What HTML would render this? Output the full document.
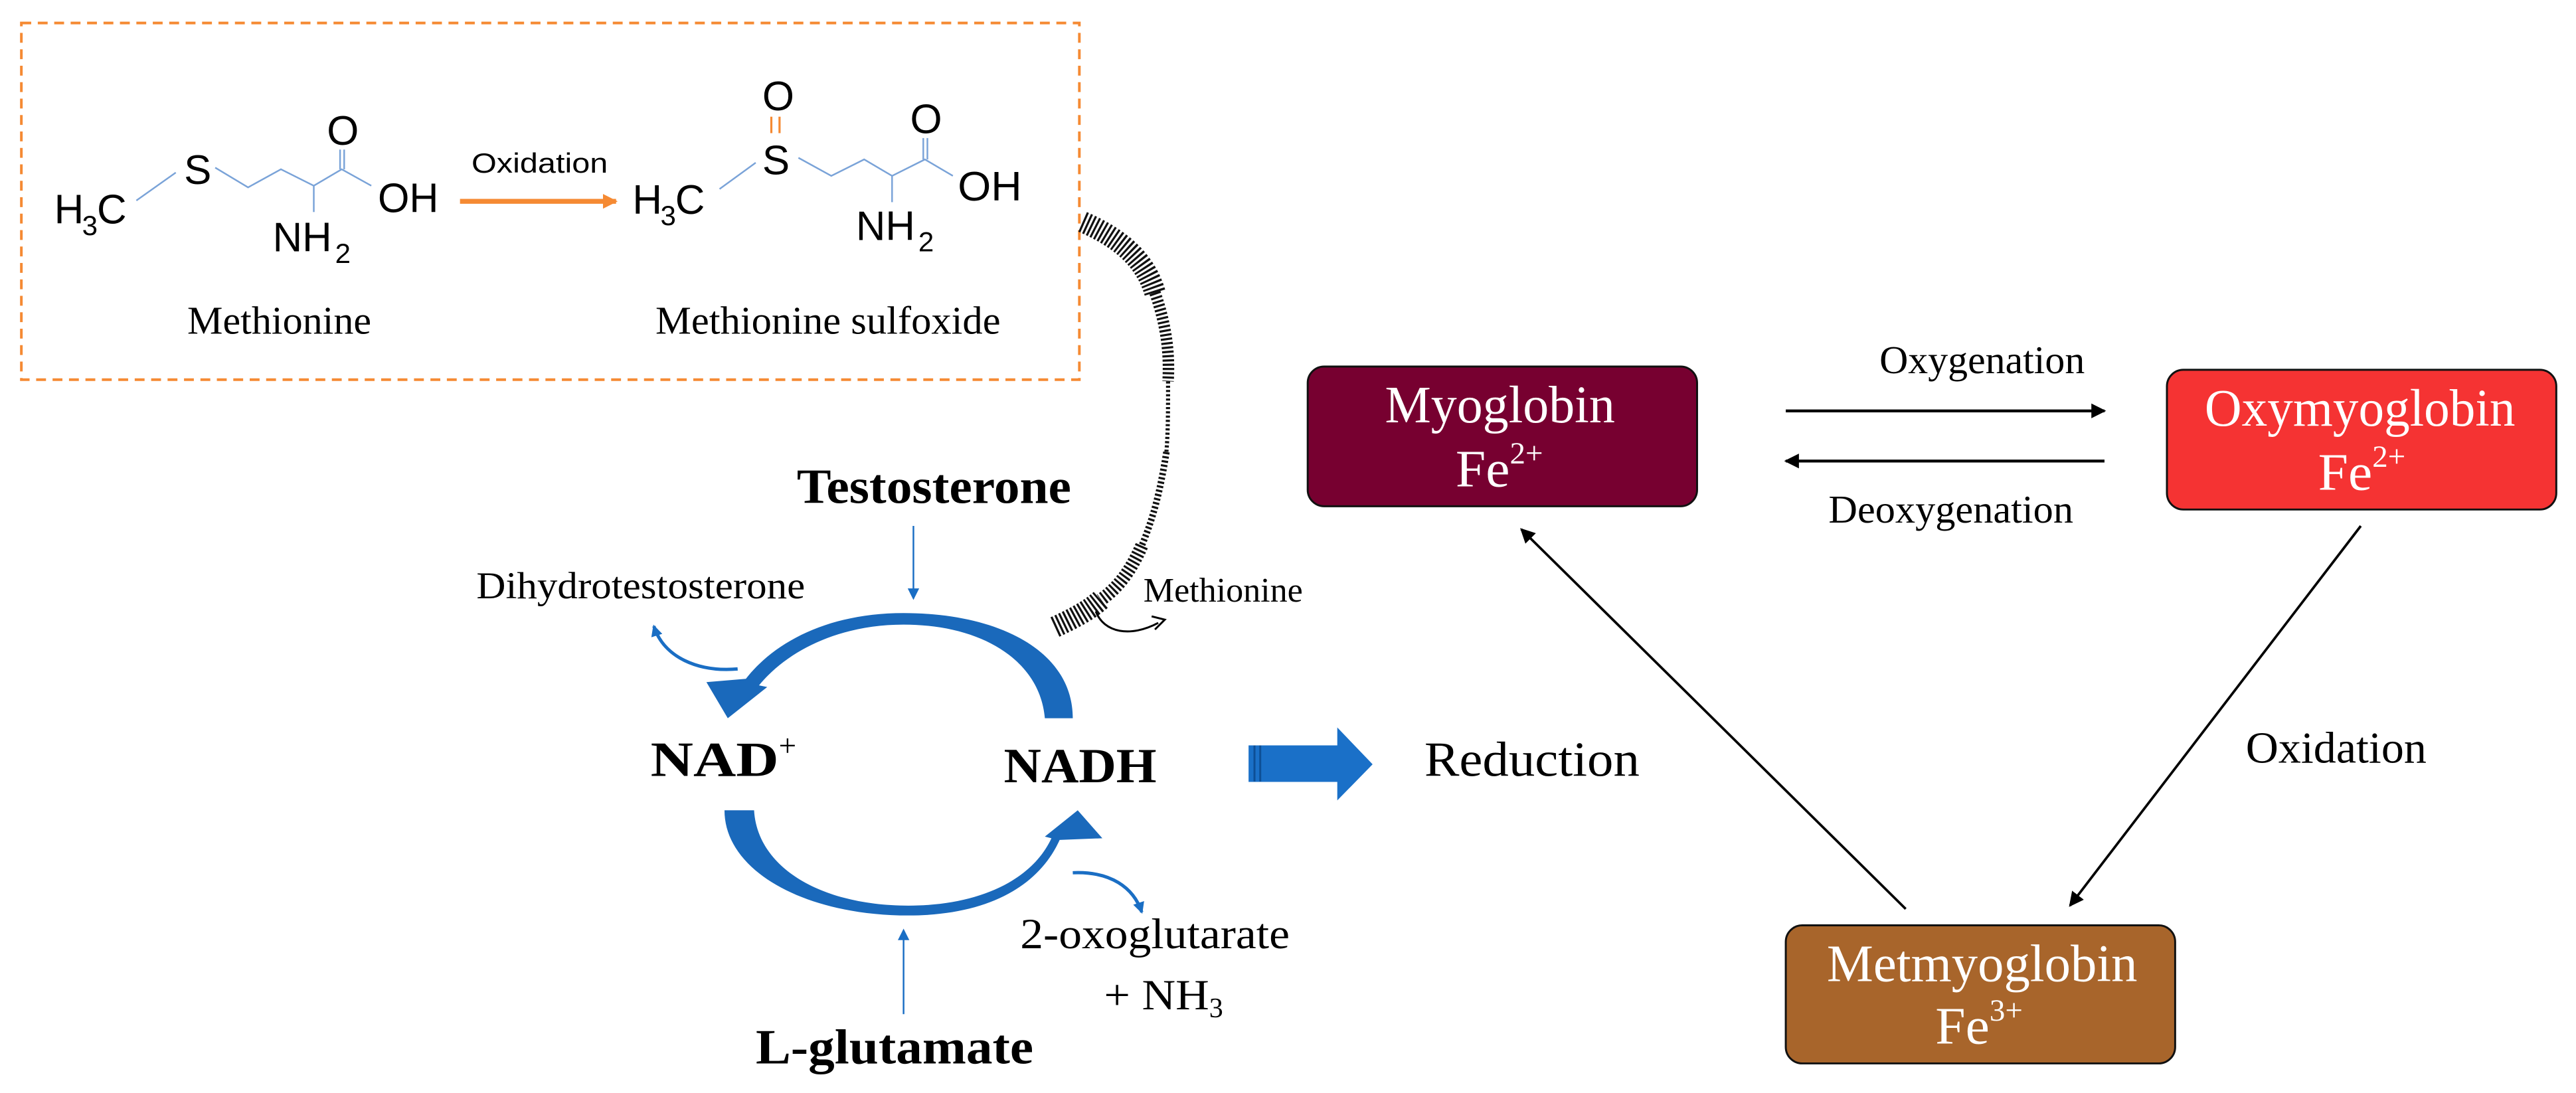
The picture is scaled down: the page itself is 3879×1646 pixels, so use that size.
<!DOCTYPE html>
<html><head><meta charset="utf-8"><style>
html,body{margin:0;padding:0;background:#fff;}
svg{display:block;}
.t{font-family:"Liberation Serif",serif;}
.s{font-family:"Liberation Sans",sans-serif;}
</style></head><body>
<svg width="3879" height="1646" viewBox="0 0 1568 665" preserveAspectRatio="none" xmlns="http://www.w3.org/2000/svg">
<defs>
<marker id="ah" markerWidth="9" markerHeight="9" refX="8" refY="4.5" orient="auto" markerUnits="userSpaceOnUse"><path d="M0,0 L9,4.5 L0,9 Z" fill="#000"/></marker>
<marker id="ahb" markerWidth="7" markerHeight="7" refX="6" refY="3.5" orient="auto" markerUnits="userSpaceOnUse"><path d="M0,0 L7,3.5 L0,7 Z" fill="#1a6ec4"/></marker>
<marker id="aho" markerWidth="9" markerHeight="9" refX="8" refY="4.5" orient="auto" markerUnits="userSpaceOnUse"><path d="M0,0 L9,4.5 L0,9 Z" fill="#f58a33"/></marker>
</defs>

<rect x="13" y="14" width="644" height="217" fill="none" stroke="#f58a33" stroke-width="1.6" stroke-dasharray="6,4"/>

<g stroke="#7aa3d8" stroke-width="1" fill="none">
<polyline points="83,122 107,105"/>
<polyline points="131,102 151,114 171,103 191,113 208,103 226,113"/>
<line x1="191" y1="113" x2="191" y2="129"/>
<line x1="207" y1="103" x2="207" y2="91"/><line x1="209.5" y1="103" x2="209.5" y2="91"/>
</g>
<g class="s" font-size="25" fill="#000">
<text x="33" y="136">H</text><text x="50" y="143" font-size="17">3</text><text x="59" y="136">C</text>
<text x="112" y="112">S</text>
<text x="199" y="88">O</text>
<text x="230" y="129" textLength="37" lengthAdjust="spacingAndGlyphs">OH</text>
<text x="166" y="153" textLength="36" lengthAdjust="spacingAndGlyphs">NH</text><text x="204" y="160" font-size="17">2</text>
</g>
<line x1="280" y1="122.5" x2="375" y2="122.5" stroke="#f58a33" stroke-width="3" marker-end="url(#aho)"/>
<text x="287" y="105" class="s" font-size="17" textLength="83" lengthAdjust="spacingAndGlyphs">Oxidation</text>

<g stroke="#7aa3d8" stroke-width="1" fill="none">
<polyline points="438,115 460,99"/>
<polyline points="486,96 506,107 526,97 543,107 563,97 580,107"/>
<line x1="543" y1="107" x2="543" y2="123"/>
<line x1="562" y1="97" x2="562" y2="84"/><line x1="564.5" y1="97" x2="564.5" y2="84"/>
</g>
<g stroke="#f58a33" stroke-width="1.3"><line x1="469.5" y1="71" x2="469.5" y2="81"/><line x1="474.5" y1="71" x2="474.5" y2="81"/></g>
<g class="s" font-size="25" fill="#000">
<text x="385" y="130">H</text><text x="402" y="137" font-size="17">3</text><text x="411" y="130">C</text>
<text x="464" y="106">S</text>
<text x="464" y="67">O</text>
<text x="554" y="81">O</text>
<text x="583" y="122" textLength="39" lengthAdjust="spacingAndGlyphs">OH</text>
<text x="521" y="146" textLength="36" lengthAdjust="spacingAndGlyphs">NH</text><text x="559" y="153" font-size="17">2</text>
</g>
<text x="114" y="203" class="t" font-size="24" textLength="112" lengthAdjust="spacingAndGlyphs">Methionine</text>
<text x="399" y="203" class="t" font-size="24" textLength="210" lengthAdjust="spacingAndGlyphs">Methionine sulfoxide</text>

<g fill="none" stroke="#111" stroke-dasharray="1.3,1.3">
<path d="M659,135 C682,145 697,158 703,178" stroke-width="13"/>
<path d="M703,178 C710,198 712,215 711,232" stroke-width="7"/>
<path d="M711,232 C711,250 711,262 710,275" stroke-width="2.5"/>
<path d="M710,275 C706,300 702,315 695,332" stroke-width="4"/>
<path d="M695,332 C688,348 680,358 670,365" stroke-width="8"/>
<path d="M670,365 C662,372 652,377 641,382" stroke-width="13"/>
</g>
<path d="M667,372 C672,385 688,388 705,379" fill="none" stroke="#000" stroke-width="1.2"/>
<path d="M701,375 L709,377 L703,383" fill="none" stroke="#000" stroke-width="1.2"/>
<text x="696" y="366" class="t" font-size="21" textLength="97" lengthAdjust="spacingAndGlyphs">Methionine</text>

<text x="485" y="306" class="t" font-weight="bold" font-size="30" textLength="167" lengthAdjust="spacingAndGlyphs">Testosterone</text>
<line x1="556" y1="320" x2="556" y2="364" stroke="#1a6ec4" stroke-width="1" marker-end="url(#ahb)"/>
<text x="290" y="364" class="t" font-size="23" textLength="200" lengthAdjust="spacingAndGlyphs">Dihydrotestosterone</text>
<path d="M653,437 C653,396 608,373 550,373 C505,373 472,390 454,413 L430,415 L443,437 L467,418 L462,417 C480,395 512,380 550,380 C598,380 633,402 636,437 Z" fill="#1a69bb"/>
<path d="M449,407 C425,409 404,400 398,381" fill="none" stroke="#1a6ec4" stroke-width="2" marker-end="url(#ahb)"/>
<text x="396" y="472" class="t" font-weight="bold" font-size="30" textLength="78" lengthAdjust="spacingAndGlyphs">NAD</text><text x="474" y="460" class="t" font-size="19">+</text>
<text x="611" y="476" class="t" font-weight="bold" font-size="30" textLength="93" lengthAdjust="spacingAndGlyphs">NADH</text>
<path d="M441,493 C441,530 490,557 553,557 C600,557 632,540 645,511 L671,510 L656,493 L636,509 L640,510 C628,536 595,551 553,551 C500,551 461,528 459,493 Z" fill="#1a69bb"/>
<path d="M653,531 C676,530 690,540 695,555" fill="none" stroke="#1a6ec4" stroke-width="2" marker-end="url(#ahb)"/>
<line x1="550" y1="617" x2="550" y2="566" stroke="#1a6ec4" stroke-width="1" marker-end="url(#ahb)"/>
<text x="621" y="577" class="t" font-size="26" textLength="164" lengthAdjust="spacingAndGlyphs">2-oxoglutarate</text>
<text x="672" y="614" class="t" font-size="26" textLength="64" lengthAdjust="spacingAndGlyphs">+ NH</text><text x="736" y="619" class="t" font-size="17">3</text>
<text x="460" y="647" class="t" font-weight="bold" font-size="30" textLength="169" lengthAdjust="spacingAndGlyphs">L-glutamate</text>

<path d="M760,453.5 L814,453.5 L814,442.6 L835.5,465 L814,487 L814,475.7 L760,475.7 Z" fill="#1a70c8"/>
<rect x="763" y="453.5" width="1.2" height="22" fill="#0d4f96"/><rect x="766.5" y="453.5" width="1.2" height="22" fill="#0d4f96"/>
<text x="867" y="472" class="t" font-size="30" textLength="131" lengthAdjust="spacingAndGlyphs">Reduction</text>

<rect x="796" y="223" width="237" height="85" rx="10" fill="#770030" stroke="#111" stroke-width="1.2"/>
<text x="843" y="257" class="t" font-size="32" fill="#fff" textLength="140" lengthAdjust="spacingAndGlyphs">Myoglobin</text>
<text x="886" y="296" class="t" font-size="32" fill="#fff" textLength="33" lengthAdjust="spacingAndGlyphs">Fe</text><text x="919" y="282" class="t" font-size="19" fill="#fff">2+</text>

<rect x="1319" y="225" width="237" height="85" rx="10" fill="#f53333" stroke="#111" stroke-width="1.2"/>
<text x="1342" y="259" class="t" font-size="32" fill="#fff" textLength="189" lengthAdjust="spacingAndGlyphs">Oxymyoglobin</text>
<text x="1411" y="298" class="t" font-size="32" fill="#fff" textLength="33" lengthAdjust="spacingAndGlyphs">Fe</text><text x="1444" y="284" class="t" font-size="19" fill="#fff">2+</text>

<rect x="1087" y="563" width="237" height="84" rx="10" fill="#a8652b" stroke="#111" stroke-width="1.2"/>
<text x="1112" y="597" class="t" font-size="32" fill="#fff" textLength="189" lengthAdjust="spacingAndGlyphs">Metmyoglobin</text>
<text x="1178" y="635" class="t" font-size="32" fill="#fff" textLength="33" lengthAdjust="spacingAndGlyphs">Fe</text><text x="1211" y="621" class="t" font-size="19" fill="#fff">3+</text>

<text x="1144" y="227" class="t" font-size="24" textLength="125" lengthAdjust="spacingAndGlyphs">Oxygenation</text>
<line x1="1087" y1="250" x2="1281" y2="250" stroke="#000" stroke-width="1.8" marker-end="url(#ah)"/>
<line x1="1281" y1="280.5" x2="1087" y2="280.5" stroke="#000" stroke-width="1.8" marker-end="url(#ah)"/>
<text x="1113" y="318" class="t" font-size="24" textLength="149" lengthAdjust="spacingAndGlyphs">Deoxygenation</text>

<line x1="1160" y1="553" x2="926" y2="322" stroke="#000" stroke-width="1.5" marker-end="url(#ah)"/>
<line x1="1437" y1="320" x2="1260" y2="551" stroke="#000" stroke-width="1.5" marker-end="url(#ah)"/>
<text x="1367" y="464" class="t" font-size="27" textLength="110" lengthAdjust="spacingAndGlyphs">Oxidation</text>
</svg>
</body></html>
